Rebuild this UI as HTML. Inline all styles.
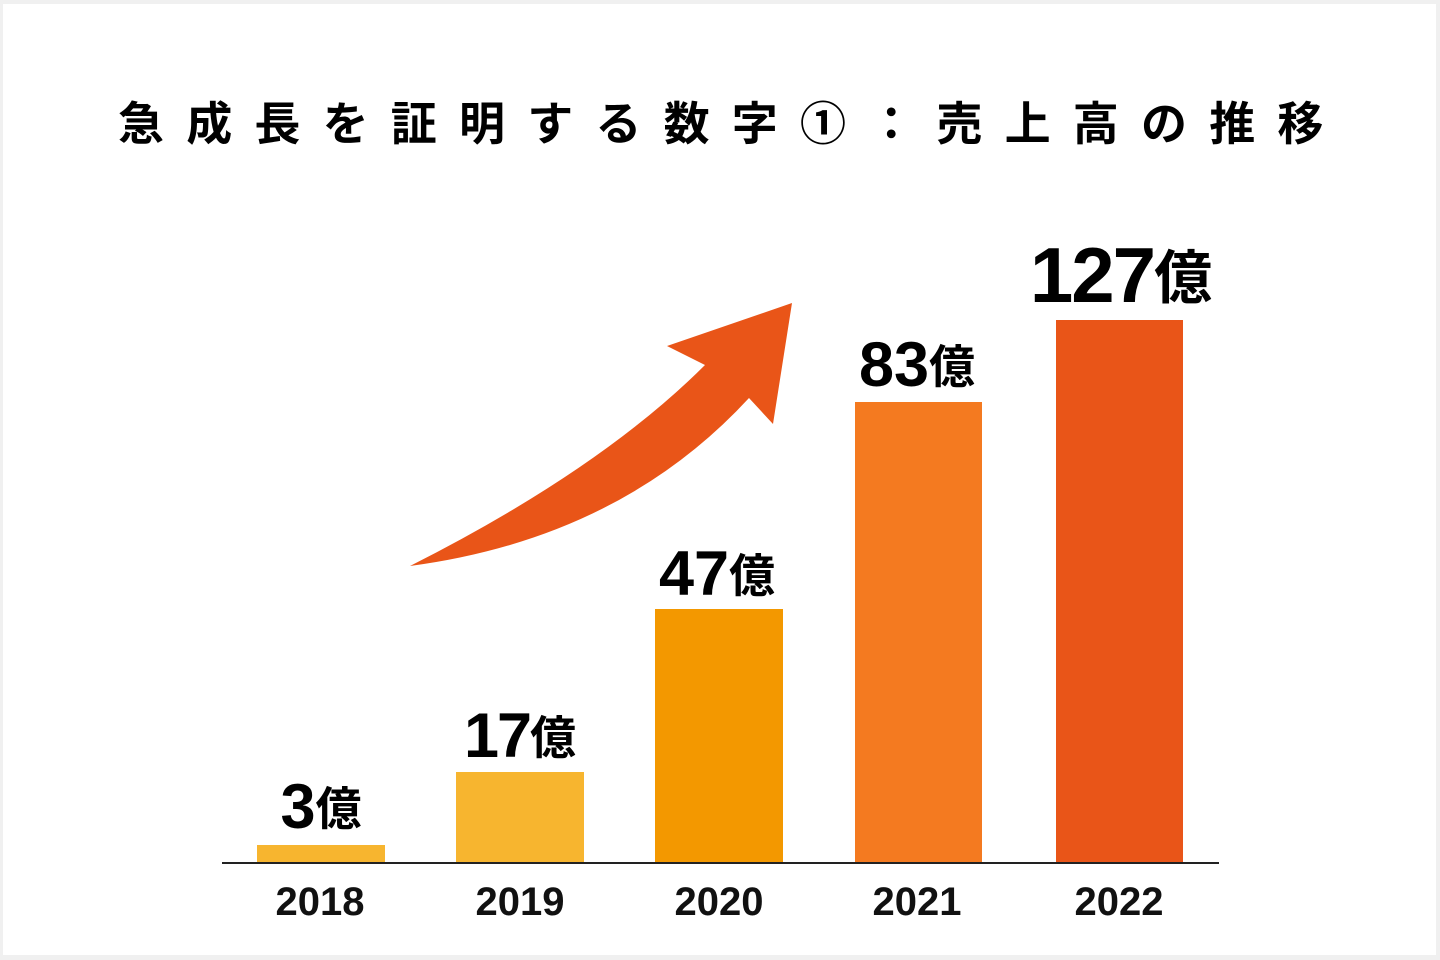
<!DOCTYPE html>
<html>
<head>
<meta charset="utf-8">
<style>
html,body{margin:0;padding:0;background:#f0f0f0;}
body{width:1440px;height:960px;overflow:hidden;position:relative;}
svg{position:absolute;left:0;top:0;}
</style>
</head>
<body>
<svg width="1440" height="960" viewBox="0 0 1440 960" xmlns="http://www.w3.org/2000/svg">
  <rect x="0" y="0" width="1440" height="960" fill="#f0f0f0"/>
  <rect x="3" y="4" width="1433" height="951" fill="#ffffff"/>

  <!-- Title -->
  <g font-family="'Liberation Sans','Noto Sans CJK JP',sans-serif" font-weight="700" font-size="46" fill="#000">
    <text x="118" y="140">急</text>
    <text x="186.2" y="140">成</text>
    <text x="254.4" y="140">長</text>
    <text x="322.6" y="140">を</text>
    <text x="390.8" y="140">証</text>
    <text x="459" y="140">明</text>
    <text x="527.2" y="140">す</text>
    <text x="595.4" y="140">る</text>
    <text x="663.6" y="140">数</text>
    <text x="731.8" y="140">字</text>
    <text x="800" y="140" font-family="'Noto Sans CJK JP',sans-serif" font-weight="700">①</text>
    <text x="868.2" y="140">：</text>
    <text x="936.4" y="140">売</text>
    <text x="1004.6" y="140">上</text>
    <text x="1072.8" y="140">高</text>
    <text x="1141" y="140">の</text>
    <text x="1209.2" y="140">推</text>
    <text x="1277.4" y="140">移</text>
  </g>

  <!-- Arrow -->
  <path d="M410,566 Q600,470 705,365 L667,346 L792,303 L773,424 L749,398 Q620,538 410,566 Z" fill="#e95518"/>

  <!-- Bars -->
  <rect x="257" y="845" width="128" height="18" fill="#f7b52f"/>
  <rect x="456" y="772" width="128" height="91" fill="#f7b52f"/>
  <rect x="655" y="609" width="128" height="254" fill="#f39800"/>
  <rect x="855" y="402" width="127" height="461" fill="#f47a20"/>
  <rect x="1056" y="320" width="127" height="543" fill="#e95518"/>

  <!-- Axis -->
  <rect x="222" y="862" width="997" height="2" fill="#222"/>

  <!-- Value labels -->
  <g font-weight="700" fill="#000">
    <text x="321" y="828" text-anchor="middle"><tspan font-family="'Liberation Sans',sans-serif" font-size="63">3</tspan><tspan font-family="'Noto Sans CJK JP',sans-serif" font-size="46" dy="-3">億</tspan></text>
    <text x="520" y="757" text-anchor="middle"><tspan font-family="'Liberation Sans',sans-serif" font-size="63" letter-spacing="-2">17</tspan><tspan font-family="'Noto Sans CJK JP',sans-serif" font-size="46" dy="-3">億</tspan></text>
    <text x="717" y="595" text-anchor="middle"><tspan font-family="'Liberation Sans',sans-serif" font-size="63">47</tspan><tspan font-family="'Noto Sans CJK JP',sans-serif" font-size="46" dy="-3">億</tspan></text>
    <text x="917" y="386" text-anchor="middle"><tspan font-family="'Liberation Sans',sans-serif" font-size="63">83</tspan><tspan font-family="'Noto Sans CJK JP',sans-serif" font-size="46" dy="-3">億</tspan></text>
    <text x="1121" y="302" text-anchor="middle"><tspan font-family="'Liberation Sans',sans-serif" font-size="78" letter-spacing="-2">127</tspan><tspan font-family="'Noto Sans CJK JP',sans-serif" font-size="58" dy="-4">億</tspan></text>
  </g>

  <!-- Year labels -->
  <g font-family="'Liberation Sans',sans-serif" font-weight="700" font-size="40" fill="#111" text-anchor="middle">
    <text x="320" y="915">2018</text>
    <text x="520" y="915">2019</text>
    <text x="719" y="915">2020</text>
    <text x="917" y="915">2021</text>
    <text x="1119" y="915">2022</text>
  </g>
</svg>
</body>
</html>
